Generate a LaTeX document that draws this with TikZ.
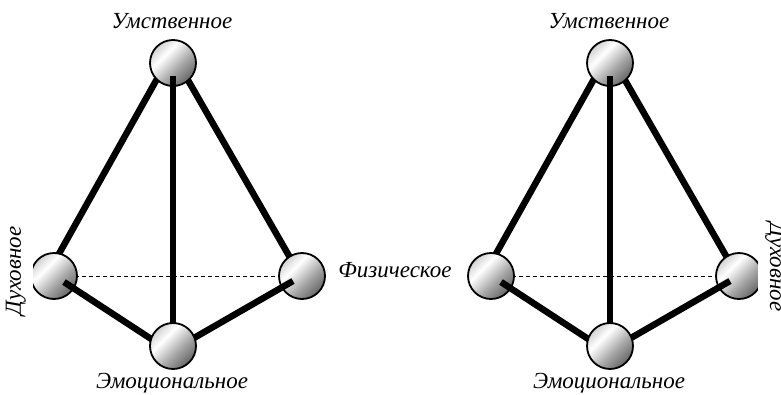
\documentclass[tikz,border=0pt]{standalone}
\usepackage{fontspec}
\setmainfont{Liberation Serif}
\usetikzlibrary{calc}
\pgfdeclareverticalshading{spheresh}{100bp}{color(0bp)=(black!60); color(25bp)=(black!60); color(42bp)=(black!35); color(62bp)=(white); color(75bp)=(black!18); color(100bp)=(black!18)}
\tikzset{
  ball/.style={circle, draw=black, line width=1.8pt, minimum size=46pt, inner sep=0pt, shading=spheresh, shading angle=45},
  edgeline/.style={line width=6.5pt, line cap=butt},
  hiddenline/.style={line width=0.8pt, dash pattern=on 4pt off 3pt},
  lbl/.style={font=\fontsize{23}{26}\selectfont\itshape, inner sep=0pt},
}
\newcommand\drawtetra[2]{%
  \begin{scope}[xshift=#2pt]
    \coordinate (#1Tc) at (173,63);
    \coordinate (#1Lc) at (54,276);
    \coordinate (#1Rc) at (302,276);
    \coordinate (#1Bc) at (173,346);
    % hidden back edge
    \draw[hiddenline] (#1Lc) -- (#1Rc);
    % upper edges (behind spheres)
    \coordinate (#1tl1) at ($(#1Tc)+(-11,7)$);
    \coordinate (#1tl2) at ($(#1Lc)+(-3,-8)$);
    \coordinate (#1tr1) at ($(#1Tc)+(8,5)$);
    \coordinate (#1tr2) at ($(#1Rc)+(-6,-8)$);
    \draw[edgeline] (#1tl1) -- (#1tl2);
    \draw[edgeline] (#1tr1) -- (#1tr2);
    \node[ball] (#1L) at (#1Lc) {};
    \node[ball] (#1R) at (#1Rc) {};
    \node[ball] (#1T) at (#1Tc) {};
    % front edges
    \coordinate (#1v1) at ($(#1Tc)+(0,13)$);
    \coordinate (#1bl1) at ($(#1Lc)+(10,6)$);
    \coordinate (#1bl2) at ($(#1Bc)+(-8,2)$);
    \coordinate (#1br1) at ($(#1Rc)+(-9,5)$);
    \coordinate (#1br2) at ($(#1Bc)+(7,0)$);
    \draw[edgeline] (#1v1) -- (#1Bc);
    \draw[edgeline] (#1bl1) -- (#1bl2);
    \draw[edgeline] (#1br1) -- (#1br2);
    \node[ball] (#1B) at (#1Bc) {};
    % labels
    \node[lbl] (#1topl) at (172,21) {Умственное};
    \node[lbl] (#1botl) at (172,383) {Эмоциональное};
  \end{scope}%
}
\begin{document}
\begin{tikzpicture}[x=1pt, y=-1pt]
  \useasboundingbox (0,0) rectangle (781,394);
  \clip (0,0) rectangle (781,394);
  \fill[white] (0,0) rectangle (781,394);
  \drawtetra{a}{0}
  \drawtetra{b}{437}
  \node[lbl, rotate=90, anchor=south, fill=white, inner ysep=7pt, inner xsep=2pt] (adl) at (33,271) {Духовное};
  \node[lbl] (afl) at (395,270) {Физическое};
  \node[lbl, rotate=-90, anchor=south, fill=white, inner ysep=7pt, inner xsep=2pt] (bdl) at (758,267) {Духовное};
\end{tikzpicture}
\end{document}
